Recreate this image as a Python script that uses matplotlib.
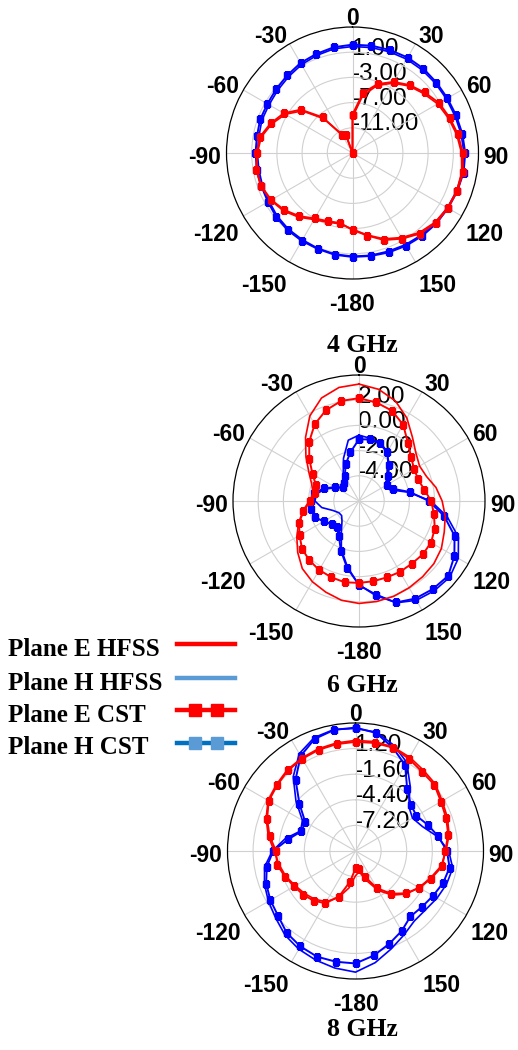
import numpy as np
import matplotlib
matplotlib.use("Agg")
import matplotlib.pyplot as plt
from matplotlib.lines import Line2D

# pattern cuts, angle in degrees clockwise from boresight, gain in dB
angles = np.arange(0, 360, 10)

# 4 GHz
e_hfss_4 = [-9.3, -5.8, -3.6, -2.2, -1.1, -0.3, 0.6, 1.2, 1.8, 2.3, 2.6, 2.6,
            2.4, 2.1, 1.5, 0.5, -0.5, -1.8, -2.9, -3.6, -3.3, -2.8, -1.7, -0.7,
            0.0, 0.5, 0.5, 0.1, -0.3, -1.4, -2.7, -4.6, -7.9, -11.5, -12.4, -15.0]
h_hfss_4 = [1.9, 2.0, 2.1, 2.2, 2.2, 2.2, 2.2, 2.3, 2.5, 2.7, 2.7, 2.6,
            2.4, 2.2, 2.0, 1.8, 1.6, 1.5, 1.4, 1.3, 1.1, 0.9, 0.8, 0.6,
            0.3, 0.2, 0.1, 0.1, 0.1, 0.3, 0.3, 0.5, 0.8, 1.2, 1.5, 1.8]
e_cst_4 = [-8.9, -5.3, -3.35, -1.97, -0.92, -0.06, 0.88, 1.4, 2.0, 2.5, 2.8, 2.7,
           2.5, 2.3, 1.7, 0.7, -0.3, -1.7, -2.8, -3.7, -3.5, -3.0, -1.9, -0.9,
           -0.1, 0.4, 0.5, 0.2, -0.1, -1.2, -2.4, -4.3, -7.6, -11.7, -11.9, -15.0]
h_cst_4 = [2.2, 2.3, 2.4, 2.5, 2.5, 2.4, 2.4, 2.5, 2.7, 2.9, 2.9, 2.7,
           2.5, 2.4, 2.2, 2.0, 1.8, 1.6, 1.5, 1.4, 1.2, 1.1, 1.0, 0.8,
           0.5, 0.4, 0.4, 0.4, 0.4, 0.6, 0.6, 0.8, 1.1, 1.5, 1.75, 2.05]

# 6 GHz
e_hfss_6 = [3.28, 3.0, 2.45, 1.6, 0.6, -0.1, -0.45, -0.3, 0.2, 0.6, 0.95, 1.2,
            1.55, 1.75, 1.85, 1.95, 2.05, 2.1, 2.13, 2.0, 1.7, 1.4, 1.0, 0.35,
            -0.3, -0.9, -1.6, -2.1, -2.3, -2.0, -1.4, -0.5, 0.6, 1.8, 2.7, 3.15]
h_hfss_6 = [-0.77, -0.95, -1.05, -1.5, -2.4, -3.1, -3.6, -3.4, -2.0, -0.3, 1.1, 2.4,
            3.1, 3.4, 3.3, 3.1, 2.6, 1.5, 0.7, -0.7, -1.9, -3.2, -3.9, -4.2,
            -4.15, -3.8, -3.0, -2.5, -2.6, -3.2, -3.9, -4.4, -4.2, -3.5, -2.4, -1.1]
e_cst_6 = [2.16, 1.94, 1.63, 1.0, 0.04, -0.6, -0.95, -1.0, -0.75, -0.27, 0.04, 0.4,
           0.6, 0.6, 0.5, 0.5, 0.45, 0.47, 0.5, 0.55, 0.44, 0.32, 0.14, -0.1,
           -0.55, -0.93, -1.47, -2.08, -2.43, -2.37, -1.75, -0.85, 0.15, 1.03, 1.67, 2.07]
h_cst_6 = [-1.1, -1.04, -1.14, -1.55, -2.3, -2.95, -3.44, -3.15, -1.9, -0.45, 0.86, 2.07,
           2.74, 3.24, 3.12, 2.94, 2.57, 1.6, 0.65, -0.6, -1.8, -2.8, -3.3, -3.17,
           -2.75, -2.27, -2.17, -2.2, -2.4, -3.05, -3.8, -4.3, -4.1, -3.75, -2.9, -2.07]

# 8 GHz
e_hfss_8 = [2.1, 2.15, 2.1, 1.85, 1.55, 1.4, 0.95, 0.7, 0.4, -0.1, -0.5, -1.3,
            -2.0, -2.7, -3.7, -5.0, -6.6, -7.7, -7.3, -5.9, -4.6, -3.6, -3.1, -2.75,
            -2.4, -1.9, -1.5, -1.1, -0.3, 0.4, 1.05, 1.3, 1.6, 1.75, 1.9, 2.0]
h_hfss_8 = [3.4, 3.2, 2.3, 1.2, -0.7, -2.4, -2.8, -2.2, -0.9, 0.2, 0.8, 0.6,
            0.3, 0.0, 0.0, 0.6, 1.4, 2.4, 3.25, 3.0, 2.7, 2.4, 2.0, 1.4,
            1.0, 0.6, 0.1, -0.9, -2.2, -3.6, -3.3, -1.5, 0.6, 2.3, 3.2, 3.5]
e_cst_8 = [1.94, 2.0, 2.03, 1.66, 1.32, 1.27, 0.79, 0.55, 0.3, -0.19, -0.37, -1.2,
           -1.94, -2.8, -3.9, -5.3, -7.0, -8.0, -8.1, -6.6, -4.7, -3.4, -2.9, -2.55,
           -2.25, -1.8, -1.3, -1.3, -0.45, 0.29, 0.96, 1.19, 1.5, 1.65, 1.78, 1.87]
h_cst_8 = [3.5, 3.1, 2.0, 0.85, -1.2, -2.1, -2.3, -1.6, -0.8, 0.0, 0.45, 0.2,
           -0.2, -0.5, -0.65, 0.1, 0.8, 1.6, 2.3, 2.3, 2.3, 2.05, 1.7, 1.05,
           0.75, 0.4, -0.15, -1.0, -2.55, -3.7, -3.65, -2.0, 0.2, 2.0, 3.05, 3.45]

titles = ["4 GHz", "6 GHz", "8 GHz"]
r_limits = [(-15, 5), (-6, 4), (-10, 4)]
r_ticks = [[-11, -7, -3, 1], [-4, -2, 0, 2], [-7.2, -4.4, -1.6, 1.2]]
theta_ticks = np.arange(0, 360, 30)
theta_labels = ["0", "30", "60", "90", "120", "150", "-180", "-150", "-120", "-90", "-60", "-30"]
series = [
    (e_hfss_4, h_hfss_4, e_cst_4, h_cst_4),
    (e_hfss_6, h_hfss_6, e_cst_6, h_cst_6),
    (e_hfss_8, h_hfss_8, e_cst_8, h_cst_8),
]

W, H = 518, 1050
PT = 0.72  # points per pixel at 100 dpi
# (center x, center y, radius) in pixels
frames = [(352.5, 153, 126), (359, 501, 126), (355.5, 851, 128)]
title_y = [345.5, 685, 1030]

RED = "#ff0000"
BLUE = "#0000ff"
sans = "Liberation Sans"
serif = "Liberation Serif"

fig = plt.figure(figsize=(W / 100, H / 100), dpi=100)


def closed(vals):
    th = np.deg2rad(np.append(angles, 360))
    r = np.append(vals, vals[0])
    return th, r


def rim_offset(deg):
    """Alignment and pixel offset for an angle label sitting outside the rim."""
    s, c = np.sin(np.deg2rad(deg)), np.cos(np.deg2rad(deg))
    ha = "left" if s > 0.2 else ("right" if s < -0.2 else "center")
    dx = 5 * s
    if c > 0.2:
        va, dy = "baseline", 2 - 10 * (1 - c)
    elif c < -0.2:
        va, dy = "top", -(7 + 14 * (-c - 0.5))
    else:
        va, dy = "center", -4.5
    return ha, va, dx, dy


for (cx, cy, rad), rlim, rt, data, ttl, ty in zip(frames, r_limits, r_ticks, series, titles, title_y):
    ax = fig.add_axes([(cx - rad) / W, 1 - (cy + rad) / H, 2 * rad / W, 2 * rad / H],
                      projection="polar")
    ax.set_theta_zero_location("N")
    ax.set_theta_direction(-1)
    ax.set_rlim(*rlim)
    ax.set_yticks(rt)
    ax.set_yticklabels([])
    ax.set_xticks(np.deg2rad(theta_ticks))
    ax.set_xticklabels([])
    ax.set_xticks(np.deg2rad(np.arange(0, 360, 5)), minor=True)
    ax.tick_params(axis="x", which="both", direction="in", length=3.5, width=0.7,
                   colors="black", pad=0)
    ax.grid(True, color="#d0d0d0", linewidth=0.8)
    ax.spines["polar"].set_color("black")
    ax.spines["polar"].set_linewidth(0.9)

    e_hfss, h_hfss, e_cst, h_cst = data
    ax.plot(*closed(h_hfss), color=BLUE, lw=1.2, zorder=3)
    ax.plot(*closed(h_cst), color=BLUE, lw=1.4, marker="s", ms=4.5, zorder=3)
    ax.plot(*closed(e_hfss), color=RED, lw=1.2, zorder=4)
    ax.plot(*closed(e_cst), color=RED, lw=1.4, marker="s", ms=4.5, zorder=4)

    # radial scale labels along the boresight spoke
    for t in rt:
        ax.annotate("%.2f" % t, xy=(0, t), xytext=(-1 * PT, 3.5 * PT), textcoords="offset points",
                    ha="left", va="center", fontsize=17.5, family=sans, zorder=1.5)

    # angle labels around the rim
    for deg, lab in zip(theta_ticks, theta_labels):
        ha, va, dx, dy = rim_offset(deg)
        ax.annotate(lab, xy=(np.deg2rad(deg), rlim[1]), xytext=(dx * PT, dy * PT),
                    textcoords="offset points", ha=ha, va=va, fontsize=16.5,
                    fontweight="bold", family=sans, annotation_clip=False)

    fig.text(362 / W, 1 - ty / H, ttl, ha="center", va="center", fontsize=18.5,
             fontweight="bold", family=serif)

# legend
legend_labels = ["Plane E HFSS", "Plane H HFSS", "Plane E CST", "Plane H CST"]
legend_y = [644, 678, 710, 743]
legend_styles = [
    dict(color="#ff0000", lw=3.2),
    dict(color="#5b9bd5", lw=3.2),
    dict(color="#ff0000", lw=3.2, marker="s", ms=8, markevery=[1, 2]),
    dict(color="#0070c0", lw=3.2, marker="s", ms=8, markevery=[1, 2],
         markerfacecolor="#5b9bd5", markeredgecolor="#5b9bd5"),
]
for lab, y, st in zip(legend_labels, legend_y, legend_styles):
    fig.text(8 / W, 1 - (y + 5) / H, lab, ha="left", va="center", fontsize=18,
             fontweight="bold", family=serif)
    xs = np.array([177, 195, 217, 235]) / W
    fig.add_artist(Line2D(xs, [1 - y / H] * 4, transform=fig.transFigure, **st))

fig.savefig("out.png", dpi=100)
